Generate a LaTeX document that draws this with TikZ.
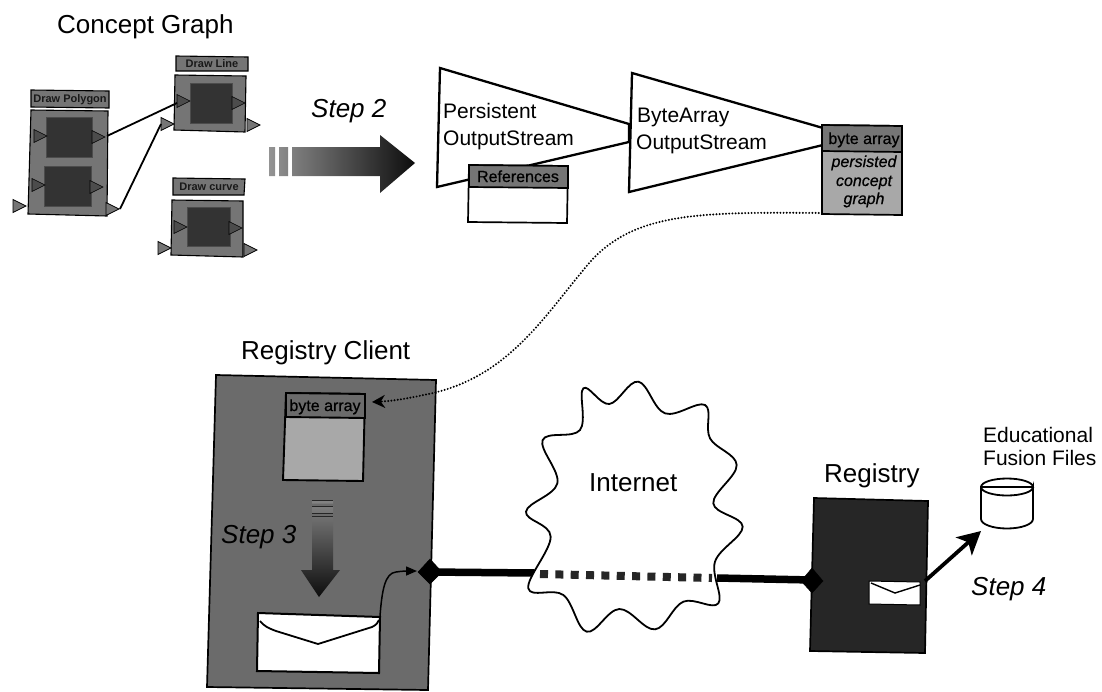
\documentclass[tikz,border=0pt]{standalone}
\usepackage{fontspec}
\setmainfont{Liberation Sans}
\usetikzlibrary{arrows.meta}
\definecolor{midg}{gray}{0.46}
\definecolor{darkg}{gray}{0.2}
\definecolor{clientg}{gray}{0.42}
\definecolor{regg}{gray}{0.15}
\definecolor{lightg}{gray}{0.66}
\tikzset{
  lbl/.style={anchor=base west,inner sep=0pt,text=black},
  ttl/.style={lbl,font=\fontsize{26}{26}\selectfont},
  stepl/.style={lbl,font=\fontsize{26}{26}\selectfont\itshape},
  strm/.style={lbl,font=\fontsize{21}{21}\selectfont},
  small/.style={anchor=base,inner sep=0pt,font=\fontsize{11}{11}\selectfont\bfseries,text=black!90},
  cell/.style={anchor=base,inner sep=0pt,font=\fontsize{16}{16}\selectfont\addfontfeature{FakeBold=0.6},text=black},
  cellit/.style={anchor=base,inner sep=0pt,font=\fontsize{16}{16}\selectfont\itshape\addfontfeature{FakeBold=0.6},text=black},
  blk/.style={draw=black,line width=1.1pt,fill=midg},
  inner/.style={draw=black!70,line width=.6pt,fill=darkg},
  portt/.style={draw=black,line width=.8pt,fill=midg},
  portd/.style={draw=black,line width=.6pt,fill=black!70},
  conn/.style={draw=black,line width=1.8pt},
  trap/.style={draw=black,line width=2.3pt,fill=white},
  frame/.style={draw=black,line width=1.7pt},
  wire/.style={draw=black,line width=7.5pt},
  dia/.style={fill=black,draw=black,line join=miter}
}
\newcommand{\porttri}[3][portt]{\path[#1] (#2,#3-6.5) -- (#2+13,#3) -- (#2,#3+6.5) -- cycle;}
\begin{document}
\begin{tikzpicture}[x=1pt,y=-1pt]
\useasboundingbox (0,0) rectangle (1102,691);
% ---------- Concept graph
\node[ttl] (cgt) at (57,33) {Concept Graph};
% Draw Polygon
\path[blk] (31,90) -- (109,91) -- (109,108) -- (31,107) -- cycle;
\node[small] (dp) at (70,102) {Draw Polygon};
\path[blk] (31,110) -- (108,111) -- (107,216) -- (28,214) -- cycle;
\path[inner] (46,117) rectangle (92,157);
\path[inner] (44,166) rectangle (91,206);
\porttri[portd]{34}{136}
\porttri[portd]{92}{137}
\porttri[portd]{32}{185}
\porttri[portd]{90}{187}
\porttri{13}{206}
\porttri{106}{209}
% Draw Line
\path[blk] (176,56) -- (248,57) -- (248,71) -- (176,71) -- cycle;
\node[small] (dl) at (212,67) {Draw Line};
\path[blk] (175,75) -- (246,76) -- (245,132) -- (174,130) -- cycle;
\path[inner] (190,83) rectangle (232,123);
\porttri[portd]{177}{101}
\porttri[portd]{232}{103}
\porttri{161}{124}
\porttri{247}{125}
% Draw curve
\path[blk] (173,178) -- (245,179) -- (244,195) -- (173,195) -- cycle;
\node[small] (dc) at (209,190) {Draw curve};
\path[blk] (172,200) -- (243,201) -- (243,257) -- (171,255) -- cycle;
\path[inner] (187,207) rectangle (230,246);
\porttri[portd]{174}{227}
\porttri[portd]{229}{228}
\porttri{158}{248}
\porttri{244}{250}
% links
\coordinate (pa) at (107,136);
\coordinate (pb) at (177,103);
\coordinate (pc) at (120,209);
\coordinate (pd) at (161,124);
\draw[conn] (pa) -- (pb);
\draw[conn] (pc) -- (pd);
% ---------- Step 2
\node[stepl] (s2) at (311,117) {Step 2};
\shade[left color=black!42,right color=black!95]
  (269,147) rectangle (275,176)
  (279,147) rectangle (288,176)
  (292,147) -- (380,147) -- (380,135) -- (415,163) -- (380,193) -- (380,176) -- (292,176) -- cycle;
% ---------- Streams
\path[trap] (440,68) -- (629,124) -- (629,142) -- (437,187) -- cycle;
\path[trap] (632,73) -- (823,128) -- (823,145) -- (629,192) -- cycle;
\node[strm] (t1) at (443,118) {Persistent};
\node[strm] (t2) at (443,145) {OutputStream};
\node[strm] (t3) at (637,122) {ByteArray};
\node[strm] (t4) at (636,149) {OutputStream};
% References
\path[frame,fill=white] (469,165) -- (568,166) -- (567,223) -- (468,222) -- cycle;
\path[frame,fill=midg] (469,165) -- (568,166) -- (568,188) -- (469,187) -- cycle;
\node[cell] (refs) at (518,182) {References};
% byte array top
\path[frame,fill=lightg] (822,125) -- (902,126) -- (902,215) -- (822,214) -- cycle;
\path[frame,fill=midg] (822,125) -- (902,126) -- (902,152) -- (822,151) -- cycle;
\node[cell] (ba1) at (864,144) {byte array};
\node[cellit] (pg1) at (864,167) {persisted};
\node[cellit] (pg2) at (864,186) {concept};
\node[cellit] (pg3) at (864,204) {graph};
% ---------- Registry client
\node[ttl] (rct) at (241,359) {Registry Client};
\path[frame,fill=clientg] (216,375) -- (436,380) -- (428,690) -- (207,687) -- cycle;
\path[frame,line width=1.9pt,fill=lightg] (286,393) -- (365,394) -- (363,481) -- (283,480) -- cycle;
\path[frame,line width=1.9pt,fill=clientg] (286,393) -- (365,394) -- (365,418) -- (286,417) -- cycle;
\node[cell] (ba2) at (325,411) {byte array};
\coordinate (dot0) at (822,213);
\coordinate (dot1) at (372,402);
\draw[draw=black,line width=2.2pt,line cap=round,dash pattern=on 0pt off 3.2pt,
      -{Stealth[length=13pt,width=13pt]}]
  (dot0) .. controls (700,212) and (635,212) .. (590,262)
  .. controls (545,315) and (510,375) .. (433,393)
  .. controls (415,397) and (395,401) .. (dot1);
% Step 3 arrow
\node[stepl] (s3) at (221,543) {Step 3};
\shade[top color=black!48,bottom color=black!95]
  (312,500) rectangle (333,503.5)
  (312,506) rectangle (333,513)
  (312,516) -- (333,516) -- (333,570) -- (340,570) -- (319,597) -- (301,570) -- (312,570) -- cycle;
\draw[draw=black!85,line width=.9pt] (312,500) -- (333,500) (312,506) -- (333,506) (312,513) -- (333,513) (312,516) -- (333,516);
% envelope
\path[frame,line width=2pt,fill=white] (258,613) -- (380,617) -- (379,673) -- (257,671) -- cycle;
\draw[draw=black,line width=1.8pt] (260,621) .. controls (264,626) and (268,628) .. (276,631) -- (318,644) -- (372,627) .. controls (376,625) and (378,623) .. (379,620);
\coordinate (ev) at (380,616);
% Wires and diamonds
\coordinate (dl1) at (430,572);
\coordinate (cl) at (535,573);
\coordinate (cr) at (717,578);
\coordinate (dr) at (812,580);
\draw[draw=black,line width=1.5pt,-{Stealth[length=11pt,width=9pt,inset=0pt]}]
  (ev) .. controls (382,590) and (385,573) .. (396,572) .. controls (402,571) and (408,571) .. (417,571);
\draw[wire] (dl1) -- (cl);
% Registry
\node[ttl] (regt) at (824,482) {Registry};
\path[frame,fill=regg] (814,498) -- (928,501) -- (925,653) -- (810,651) -- cycle;
\draw[wire] (cr) -- (dr);
\path[dia] (430,559) -- (442,572) -- (430,584) -- (418,572) -- cycle;
\path[dia] (812,568) -- (823,581) -- (812,593) -- (801,581) -- cycle;
% Internet cloud
\begin{scope}[shift={(460,380)},x=0.33333pt,y=-0.33333pt]
\draw[draw=black,line width=1.8pt,fill=white] plot[smooth cycle,tension=0.62] coordinates {
 (370,25) (448,72) (535,5) (615,100) (735,75) (750,175) (830,255) (760,370)
 (848,440) (765,545) (775,670) (670,665) (585,748) (478,687) (380,755) (310,645)
 (205,625) (272,470) (198,395) (292,310) (248,180) (360,150)};
\end{scope}
\node[ttl] (inet) at (589,491) {Internet};
\coordinate (d0) at (540,574);
\coordinate (d1) at (712,578);
\draw[draw=black!85,line width=8pt,dash pattern=on 8pt off 7.35pt] (d0) -- (d1);
% Registry envelope
\path[draw=black,line width=1pt,fill=white] (869,581) -- (920,582) -- (920,605) -- (869,604) -- cycle;
\draw[draw=black,line width=1.4pt] (871,583) -- (895,593) -- (920,585);
\coordinate (ev2) at (925,581);
\coordinate (cyl) at (981,531);
\draw[draw=black,line width=3.8pt,-{Stealth[length=23pt,width=24pt,inset=6pt]}] (ev2) -- (cyl);
% Cylinder
\path[draw=black,line width=1.8pt,fill=white] (981,487) -- (981,519) arc[start angle=180,end angle=360,x radius=26,y radius=-9.5] -- (1033,487) arc[start angle=0,end angle=360,x radius=26,y radius=8.5] -- cycle;
\node[lbl,font=\fontsize{21}{21}\selectfont] (ef1) at (983,442) {Educational};
\node[lbl,font=\fontsize{21}{21}\selectfont] (ef2) at (983,465) {Fusion Files};
\node[stepl] (s4) at (971,595) {Step 4};
\end{tikzpicture}
\end{document}
